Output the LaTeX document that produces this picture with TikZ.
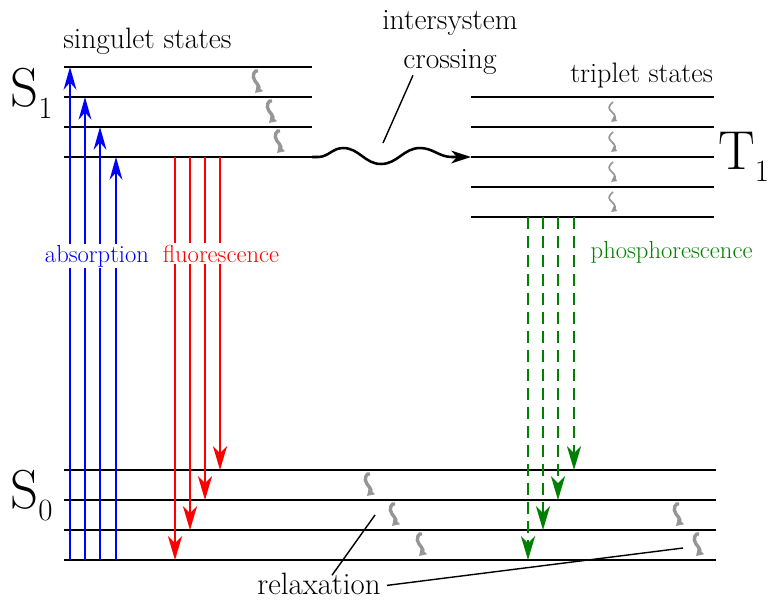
\documentclass[tikz,border=0pt]{standalone}
\usepackage{fontspec}
\usetikzlibrary{arrows.meta,positioning,calc}
\definecolor{absblue}{RGB}{0,0,255}
\definecolor{fluored}{RGB}{255,0,0}
\definecolor{phosgreen}{RGB}{0,128,0}
\definecolor{relaxgray}{RGB}{150,150,150}

\tikzset{
  level/.style={line width=1.8pt},
  tlevel/.style={line width=1.5pt},
  absorb/.style={absblue, line width=2pt, -{Stealth[length=16pt,width=9pt,inset=5pt]}},
  fluor/.style={fluored, line width=2pt, -{Stealth[length=17pt,width=10pt,inset=5pt]}},
  phos/.style={phosgreen, line width=2pt, dash pattern=on 8.5pt off 5pt, -{Stealth[length=17pt,width=10pt,inset=5pt]}},
  bigtxt/.style={font=\fontsize{21}{27.7}\selectfont, inner sep=0pt},
  coltxt/.style={font=\fontsize{17.5}{20}\selectfont, fill=white, inner sep=1pt},
  statetxt/.style={font=\fontsize{39}{39}\selectfont, inner sep=0pt, anchor=base west},
  relax/.pic={\draw[relaxgray, line width=2.4pt, -{Triangle[length=5pt,width=6pt]}]
      (2,-11) .. controls (-1,-13) and (-5,-6) .. (-1,-1)
      .. controls (3,3) and (3,7) .. (-1,11);},
  trelax/.pic={\draw[relaxgray, line width=1.2pt, -{Triangle[length=4pt,width=4pt]}]
      (1,-10) .. controls (-4,-6) and (-4,-3) .. (0,0)
      .. controls (4,3) and (3,7) .. (-1,10);}
}
\newcommand{\lowsub}[1]{\raisebox{-9pt}{\fontsize{22}{22}\selectfont #1}}

\begin{document}
\begin{tikzpicture}[x=0.025cm, y=-0.025cm, >=stealth]
	\useasboundingbox (0,0) rectangle (769,601);

	% singlet states
	\foreach \y in {67,97,127,157} \draw[level] (64,\y) -- (312,\y);
	% triplet states
	\foreach \y in {97,127,157,187,217} \draw[tlevel] (471,\y) -- (714,\y);
	% ground state
	\foreach \y in {470,500,530,560} \draw[level] (64,\y) -- (716,\y);

	\node[statetxt] (S1name) at (10,106) {S\lowsub{1}};
	\node[statetxt] (S0name) at (10,508) {S\lowsub{0}};
	\node[statetxt] (T1name) at (718,169) {T\lowsub{1}};

	\node[bigtxt, anchor=base west] (singlet) at (63,48) {singulet states};
	\node[bigtxt, anchor=base west, font=\fontsize{20}{24}\selectfont] (triplet) at (570,82) {triplet states};
	\node[bigtxt, align=center, anchor=base] (isclabel) at (450,68) {intersystem\\crossing};
	\node[bigtxt, anchor=base, font=\fontsize{22}{26}\selectfont] (relaxlabel) at (319,594) {relaxation};

	% absorption
	\foreach \x/\y [count=\i] in {70/67,85/97,100/127,116/157} {
		\coordinate (abs\i) at (\x,560);
		\coordinate (exc\i) at (\x,\y);
		\draw[absorb] (abs\i) -- (exc\i);
	}
	% fluorescence
	\foreach \x/\y [count=\i] in {175/560,190/530,205/500,220/470} {
		\coordinate (fl\i) at (\x,157);
		\coordinate (gr\i) at (\x,\y);
		\draw[fluor] (fl\i) -- (gr\i);
	}
	% phosphorescence
	\foreach \x/\y [count=\i] in {528/560,543/530,558/500,574/470} {
		\coordinate (ph\i) at (\x,217);
		\coordinate (pg\i) at (\x,\y);
		\draw[phos] (ph\i) -- (pg\i);
	}

	\node[coltxt, text=absblue, anchor=base] (abslabel) at (97,262) {absorption};
	\node[coltxt, text=fluored, anchor=base] (fllabel) at (221,262) {fluorescence};
	\node[coltxt, text=phosgreen, anchor=base west, fill=none] (phlabel) at (589,258) {phosphorescence};

	% intersystem crossing
	\coordinate (iscA) at (312,157);
	\coordinate (iscB) at (471,157);
	\draw[line width=1.8pt, -{Stealth[length=14pt,width=9pt,inset=4pt]}] (iscA) -- (318,157)
		to[out=0,in=180] (343,148) to[out=0,in=180] (381,164)
		to[out=0,in=180] (420,148) to[out=0,in=180] (452,157) -- (iscB);
	\coordinate (iscptr) at (383,143);
	\draw[line width=1pt] ($(isclabel.south)+(-37,1)$) -- (iscptr);

	% relaxation
	\foreach \x/\y in {256/82,270/112,278/142,368/485,393/515,420/545,677/515,697/545}
		\pic at (\x,\y) {relax};
	\foreach \y in {112,142,172,202}
		\pic at (612,\y) {trelax};
	\coordinate (rxA) at (375,515);
	\coordinate (rxB) at (683,548);
	\draw[line width=1pt] ($(relaxlabel.north)+(13,3)$) -- (rxA);
	\draw[line width=1pt] ($(relaxlabel.east)+(6,2)$) -- (rxB);

\end{tikzpicture}
\end{document}
